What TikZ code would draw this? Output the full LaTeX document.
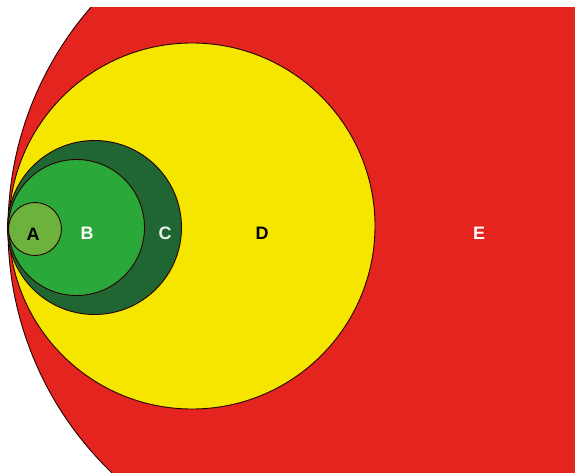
\documentclass[tikz,border=0pt]{standalone}
\usepackage{fontspec}
\setmainfont{Liberation Sans}
\definecolor{cE}{RGB}{228,36,30}
\definecolor{cD}{RGB}{245,230,0}
\definecolor{cC}{RGB}{32,102,50}
\definecolor{cB}{RGB}{42,168,58}
\definecolor{cA}{RGB}{108,178,60}
\tikzset{
  ring/.style={draw=black!85!red, line width=0.9pt},
  lab/.style={font=\bfseries\fontsize{18}{18}\selectfont, inner sep=0pt}
}
\begin{document}
\begin{tikzpicture}[x=1pt,y=-1pt]
\useasboundingbox (0,0) rectangle (575,473);
\fill[white] (0,0) rectangle (575,473);
\begin{scope}
\clip (0,8) rectangle (575,473);
\fill[cE] (346,229) circle[radius=338];
\draw[ring] (346,229) circle[radius=338];
\end{scope}
\path[ring, fill=cD] (192,226) circle[radius=183];
\path[ring, fill=cC] (94.5,227.5) circle[radius=87];
\path[ring, fill=cB] (76.5,227.5) circle[radius=68];
\path[ring, fill=cA] (35,229) circle[radius=26.5];
\node[lab, text=black] (a) at (33,234) {A};
\node[lab, text=white] (b) at (87,233) {B};
\node[lab, text=white!90!cC] (c) at (165,233) {C};
\node[lab, text=black] (d) at (262,233) {D};
\node[lab, text=white] (e) at (479,233) {E};
\end{tikzpicture}
\end{document}
